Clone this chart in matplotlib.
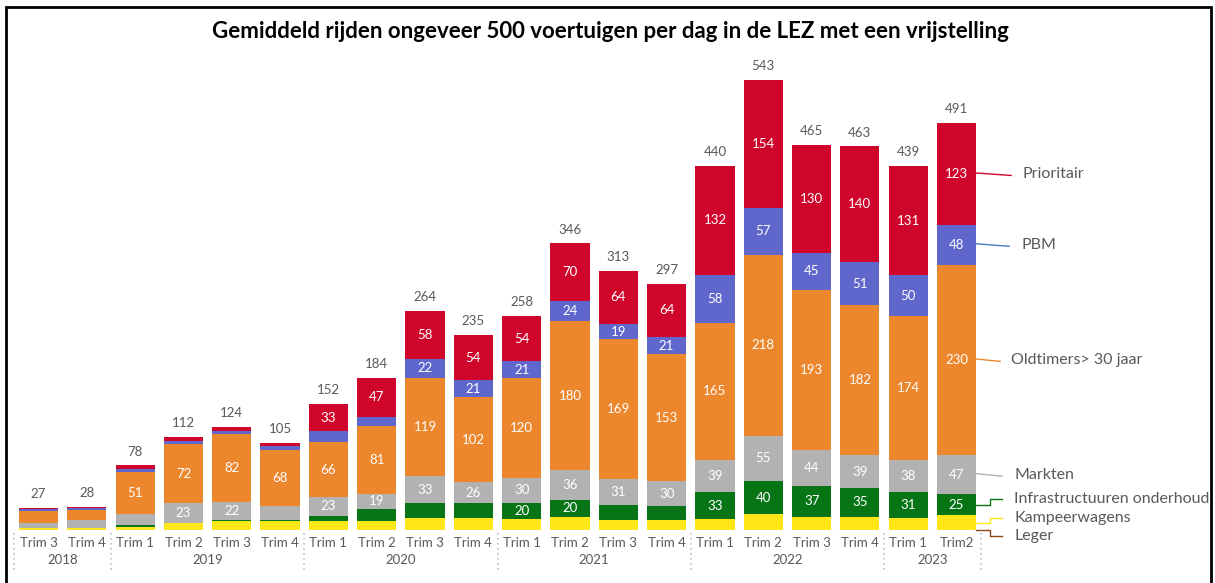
import matplotlib
matplotlib.use("Agg")
import matplotlib.pyplot as plt
from matplotlib.patches import Rectangle
from matplotlib.transforms import blended_transform_factory
import numpy as np

plt.rcParams['font.family'] = ['Lato', 'DejaVu Sans']

title = "Gemiddeld rijden ongeveer 500 voertuigen per dag in de LEZ met een vrijstelling"
quarters = ["Trim 3", "Trim 4",
            "Trim 1", "Trim 2", "Trim 3", "Trim 4",
            "Trim 1", "Trim 2", "Trim 3", "Trim 4",
            "Trim 1", "Trim 2", "Trim 3", "Trim 4",
            "Trim 1", "Trim 2", "Trim 3", "Trim 4",
            "Trim 1", "Trim2"]
years = ["2018", "2019", "2020", "2021", "2022", "2023"]
year_counts = [2, 4, 4, 4, 4, 2]

series_names = ["Leger", "Kampeerwagens", "Infrastructuuren onderhoud", "Markten",
                "Oldtimers> 30 jaar", "PBM", "Prioritair"]
leger         = [0, 0, 0, 0, 0, 0, 0, 0, 0, 0, 0, 0, 0, 0, 0, 0, 0, 0, 0, 0]
kampeerwagens = [2, 2, 4, 8, 11, 11, 11, 11, 14, 14, 13, 16, 12, 12, 13, 19, 16, 16, 15, 18]
infrastructuur= [0, 0, 2, 1, 1, 1, 6, 14, 18, 18, 20, 20, 18, 17, 33, 40, 37, 35, 31, 25]
markten       = [7, 10, 13, 23, 22, 17, 23, 19, 33, 26, 30, 36, 31, 30, 39, 55, 44, 39, 38, 47]
oldtimers     = [14, 12, 51, 72, 82, 68, 66, 81, 119, 102, 120, 180, 169, 153, 165, 218, 193, 182, 174, 230]
pbm           = [2, 2, 4, 4, 3, 4, 13, 12, 22, 21, 21, 24, 19, 21, 58, 57, 45, 51, 50, 48]
prioritair    = [2, 2, 4, 4, 5, 4, 33, 47, 58, 54, 54, 70, 64, 64, 132, 154, 130, 140, 131, 123]

colors = ["#8B4A1C", "#FFE619", "#077516", "#B2B2B2", "#ED872D", "#5F67CD", "#D0052B"]
show_labels = [False, False, True, True, True, True, True]
series = [leger, kampeerwagens, infrastructuur, markten, oldtimers, pbm, prioritair]

W, H = 1215, 583
fig = plt.figure(figsize=(W / 100, H / 100), dpi=100)
ax = fig.add_axes([14.3 / W, (H - 530) / H, (980.7 - 14.3) / W, 497 / H])

x = np.arange(len(quarters))
bw = 0.81
bottom = np.zeros(len(quarters))
mids = []
for vals, col, show in zip(series, colors, show_labels):
    v = np.array(vals, dtype=float)
    ax.bar(x, v, bw, bottom=bottom, color=col, linewidth=0)
    if show:
        for xi, (b, val) in enumerate(zip(bottom, v)):
            if val >= 19:
                ax.text(xi, b + val / 2, f"{int(val)}", ha='center', va='center',
                        color='white', fontsize=9.5)
    mids.append(bottom + v / 2)
    bottom = bottom + v

totals = bottom
for xi, t in enumerate(totals):
    ax.annotate(f"{int(t)}", (xi, t), xytext=(0, 10), textcoords='offset points',
                ha='center', va='center', color='#595959', fontsize=9.5)

ax.set_xlim(-0.5, len(quarters) - 0.5)
ax.set_ylim(0, 600)
ax.set_axis_off()
ax.axhline(0, color='#D9D9D9', lw=0.8, xmin=0, xmax=1)

trans = blended_transform_factory(ax.transData, ax.transAxes)
for xi, q in enumerate(quarters):
    ax.text(xi, -0.026, q, transform=trans, ha='center', va='center',
            color='#595959', fontsize=9.5, clip_on=False)
start = 0
bounds = [-0.5]
for yr, n in zip(years, year_counts):
    center = start + (n - 1) / 2
    ax.text(center, -0.060, yr, transform=trans, ha='center', va='center',
            color='#595959', fontsize=9.5, clip_on=False)
    start += n
    bounds.append(start - 0.5)
for b in bounds:
    ax.plot([b, b], [-0.006, -0.08], transform=trans, color='#BFBFBF', lw=1.2,
            ls=(0, (1, 2)), clip_on=False)

# Series labels on the right with leader lines
last = len(quarters) - 1
edge = last + bw / 2
px = 48.3  # pixels per x unit
label_info = {
    "Prioritair": dict(tx=edge + 46 / px, lx=edge + 35 / px, ty=None, elbow=False),
    "PBM": dict(tx=edge + 45 / px, lx=edge + 33 / px, ty=None, elbow=False),
    "Oldtimers> 30 jaar": dict(tx=edge + 35 / px, lx=edge + 24 / px, ty=None, elbow=False),
    "Markten": dict(tx=edge + 38 / px, lx=edge + 26 / px, ty=None, elbow=False),
    "Infrastructuuren onderhoud": dict(tx=edge + 38 / px, lx=edge + 26 / px, ty=37.5, elbow=True),
    "Kampeerwagens": dict(tx=edge + 38 / px, lx=edge + 26 / px, ty=14.5, elbow=True),
    "Leger": dict(tx=edge + 38 / px, lx=edge + 26 / px, ty=-7.2, elbow=True),
}
line_colors = {"Prioritair": "#D0052B", "PBM": "#4A7CC0", "Oldtimers> 30 jaar": "#ED872D",
               "Markten": "#B2B2B2", "Infrastructuuren onderhoud": "#077516",
               "Kampeerwagens": "#FFE619", "Leger": "#8B4A1C"}
for name, m in zip(series_names, mids):
    info = label_info[name]
    y0 = m[last]
    ty = info['ty'] if info['ty'] is not None else y0
    if info['elbow']:
        xm = edge + 14 / px
        ax.plot([edge, xm, xm, info['lx']], [y0, y0, ty, ty], color=line_colors[name],
                lw=1.0, clip_on=False)
    else:
        ax.plot([edge, info['lx']], [y0 + 1.5, y0 - 1.5], color=line_colors[name],
                lw=1.0, clip_on=False)
    ax.text(info['tx'], ty, name, ha='left', va='center', color='#595959',
            fontsize=11.5, clip_on=False)

fig.text(610 / W, 1 - 32 / H, title, ha='center', va='center', fontsize=16,
         fontweight='bold', color='black')

fig.add_artist(Rectangle((6 / W, -0.05), (1211 - 6) / W, 1.05 - 6.5 / H,
                         transform=fig.transFigure, fill=False, edgecolor='black', lw=2))

fig.savefig("out.png", dpi=100)
